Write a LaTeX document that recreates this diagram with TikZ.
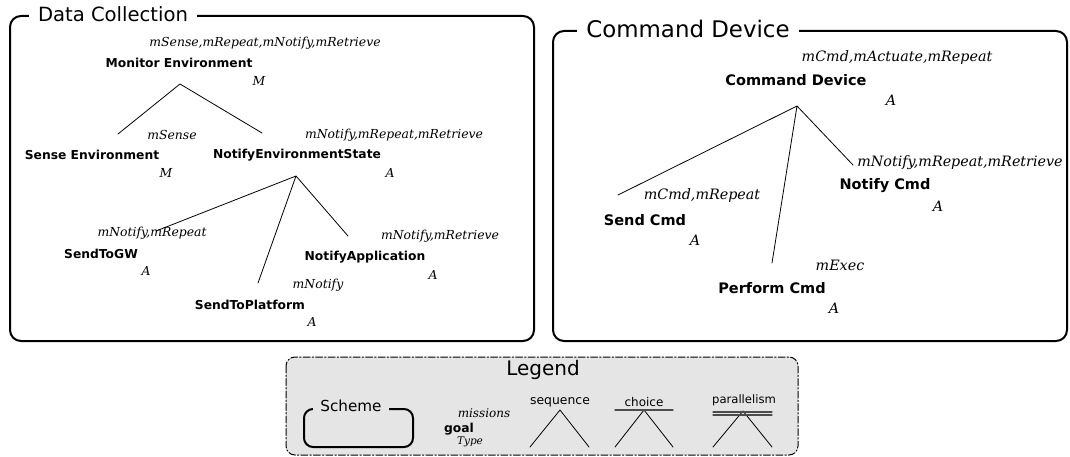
\documentclass[tikz,border=0pt]{standalone}
\usepackage{fontspec}
\setmainfont{DejaVu Serif}
\setsansfont{DejaVu Sans}
\definecolor{legendgray}{HTML}{E5E5E5}

\begin{document}
\begin{tikzpicture}[x=1pt,y=-1pt,line join=round,line cap=round,
    goal/.style={inner sep=0pt,font=\sffamily\bfseries\fontsize{12.3}{14}\selectfont},
    mis/.style={inner sep=0pt,font=\itshape\fontsize{12.4}{14}\selectfont},
    biggoal/.style={inner sep=0pt,font=\sffamily\bfseries\fontsize{14.5}{16}\selectfont},
    bigmis/.style={inner sep=0pt,font=\itshape\fontsize{14.3}{16}\selectfont},
    schemebox/.style={draw,line width=2pt,rounded corners=11pt},
    schemetitle/.style={fill=white,inner xsep=9pt,inner ysep=0pt,font=\sffamily\fontsize{19.6}{22}\selectfont},
    leg/.style={line width=0.8pt}]
    \useasboundingbox (0,0) rectangle (1070,457);

    % Data Collection
    \begin{scope}
        \draw[schemebox] (10,16) rectangle (534,341);
        \node[schemetitle] (dcTitle) at (113,14) {Data Collection};

        \node[mis]  (monMis)  at (265,43)  {mSense,mRepeat,mNotify,mRetrieve};
        \node[goal] (mon)     at (179,63)  {Monitor Environment};
        \node[mis]  (monTyp)  at (259,81)  {M};
        \node[mis]  (senMis)  at (172,135) {mSense};
        \node[goal] (sen)     at (92,155)  {Sense Environment};
        \node[mis]  (senTyp)  at (166,173) {M};
        \node[mis]  (nesMis)  at (394,135) {mNotify,mRepeat,mRetrieve};
        \node[goal] (nes)     at (297,155) {NotifyEnvironmentState};
        \node[mis]  (nesTyp)  at (390,173) {A};
        \node[mis]  (gwMis)   at (152,233) {mNotify,mRepeat};
        \node[goal] (gw)      at (101,254) {SendToGW};
        \node[mis]  (gwTyp)   at (146,271) {A};
        \node[mis]  (appMis)  at (440,236) {mNotify,mRetrieve};
        \node[goal] (app)     at (365,257) {NotifyApplication};
        \node[mis]  (appTyp)  at (433,275) {A};
        \node[mis]  (platMis) at (318,285) {mNotify};
        \node[goal] (plat)    at (250,305) {SendToPlatform};
        \node[mis]  (platTyp) at (312,322) {A};

        \coordinate (monTop)  at (180,84);
        \coordinate (senEnd)  at (118,134);
        \coordinate (nesEnd)  at (262,133);
        \coordinate (nesTop)  at (296,176);
        \coordinate (gwEnd)   at (156,231);
        \coordinate (platEnd) at (258,283);
        \coordinate (appEnd)  at (348,236);
        \draw[leg] (senEnd)--(monTop)--(nesEnd);
        \draw[leg] (gwEnd)--(nesTop)--(appEnd) (nesTop)--(platEnd);
    \end{scope}

    % Command Device
    \begin{scope}
        \draw[schemebox] (553,31) rectangle (1067,341);
        \node[schemetitle,font=\sffamily\fontsize{22.9}{26}\selectfont] (cdTitle) at (688,29) {Command Device};

        \node[bigmis]  (cmdMis) at (897,58)  {mCmd,mActuate,mRepeat};
        \node[biggoal] (cmd)    at (796,80)  {Command Device};
        \node[bigmis]  (cmdTyp) at (891,100) {A};
        \node[bigmis]  (ncMis)  at (960,163) {mNotify,mRepeat,mRetrieve};
        \node[biggoal] (nc)     at (885,186) {Notify Cmd};
        \node[bigmis]  (ncTyp)  at (938,206) {A};
        \node[bigmis]  (scMis)  at (702,196) {mCmd,mRepeat};
        \node[biggoal] (sc)     at (645,220) {Send Cmd};
        \node[bigmis]  (scTyp)  at (695,240) {A};
        \node[bigmis]  (pcMis)  at (840,265) {mExec};
        \node[biggoal] (pc)     at (772,288) {Perform Cmd};
        \node[bigmis]  (pcTyp)  at (834,308) {A};

        \coordinate (cmdTop) at (797,106);
        \coordinate (scEnd)  at (618,195);
        \coordinate (pcEnd)  at (772,263);
        \coordinate (ncEnd)  at (853,165);
        \draw[leg] (scEnd)--(cmdTop)--(ncEnd) (cmdTop)--(pcEnd);
    \end{scope}

    % Legend
    \begin{scope}
        \draw[fill=legendgray,line width=1pt,rounded corners=9pt,
            dash pattern=on 7pt off 2pt on 1.5pt off 2pt] (286,357) rectangle (798,455);
        \node[font=\sffamily\fontsize{20}{22}\selectfont] (legTitle) at (543,370) {Legend};

        \draw[schemebox,rounded corners=9pt] (304,409) rectangle (413,447);
        \node[schemetitle,fill=legendgray,inner xsep=7pt,font=\sffamily\fontsize{15.2}{17}\selectfont] (schTitle) at (351,406) {Scheme};

        \node[mis,font=\itshape\fontsize{12}{14}\selectfont] (exMis) at (484,413) {missions};
        \node[goal] (exGoal) at (459,429) {goal};
        \node[mis,font=\itshape\fontsize{10.5}{12}\selectfont] (exTyp) at (470,442) {Type};

        \node[font=\sffamily\fontsize{12.4}{14}\selectfont] (seqLab) at (560,402) {sequence};
        \node[font=\sffamily\fontsize{12}{14}\selectfont]   (choLab) at (644,402) {choice};
        \node[font=\sffamily\fontsize{11.6}{14}\selectfont] (parLab) at (744,400) {parallelism};

        \coordinate (seqTop) at (560,410);
        \coordinate (seqL)   at (530,447);
        \coordinate (seqR)   at (589,447);
        \coordinate (choTop) at (644,410);
        \coordinate (choL)   at (615,447);
        \coordinate (choR)   at (673,447);
        \coordinate (parTop) at (743,411);
        \coordinate (parL)   at (713,447);
        \coordinate (parR)   at (772,447);
        \draw[leg] (seqL)--(seqTop)--(seqR);
        \draw[leg] (choL)--(choTop)--(choR);
        \draw[leg] (parL)--(parTop)--(parR);
        \draw[line width=1.2pt,black!70] (choL|-choTop)--(choR|-choTop);
        \draw[line width=1.2pt,black!70] ([yshift=-4pt]parL|-parTop)--([yshift=-4pt]parR|-parTop)
            ([yshift=-1pt]parL|-parTop)--([yshift=-1pt]parR|-parTop);
    \end{scope}
\end{tikzpicture}
\end{document}
